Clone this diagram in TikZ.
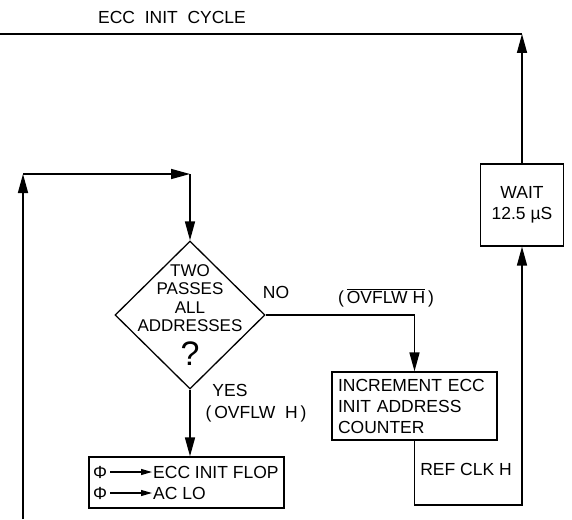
\documentclass[tikz,border=0pt]{standalone}
\usepackage{fontspec}
\setmainfont{Liberation Sans}
\usepackage{tikz}
\usetikzlibrary{arrows.meta,shapes.geometric,positioning}
\newcommand\lett{\fontsize{17.5}{21}\selectfont}

\begin{document}
\begin{tikzpicture}[
  x=1pt, y=-1pt,
  every node/.style={font=\lett, inner sep=0pt},
  box/.style={draw, line width=1.3pt, rectangle},
  wire/.style={draw, line width=1.6pt},
  flow/.style={wire, -{Triangle[length=19pt,width=10pt]}},
  small flow/.style={draw, line width=1.1pt, shorten <=3pt, shorten >=1pt, -{Triangle[length=11pt,width=6pt]}}
]
\useasboundingbox (0,0) rectangle (572,519);
\node[box, minimum width=83, minimum height=82, align=center] (wait) at (522,205) {WAIT\\12.5 µS};
\node[diamond, draw, line width=1.3pt, minimum width=150, minimum height=148] (test) at (190,315) {};
\node[align=center, font=\fontsize{17}{18.3}\selectfont] (testtxt) at (190,298) {TWO\\PASSES\\ALL\\ADDRESSES};
\node[font=\fontsize{34}{34}\selectfont] (qmark) at (190,354) {?};
\node[box, minimum height=68, text width=153, inner xsep=6pt, align=left] (inc) at (414.5,406)
  {INCREMENT ECC\\INIT ADDRESS\\COUNTER};
\node[box, minimum width=195, minimum height=51] (init) at (186.5,482.5) {};
\node (phia) at (100,472) {Φ};
\node (phib) at (100,493) {Φ};
\node[anchor=west] (flop) at (153,472) {ECC INIT FLOP};
\node[anchor=west] (aclo) at (153,493) {AC LO};

\node (cyc) at (172,17) {ECC \ INIT \ CYCLE};
\node (no) at (276,292) {NO};
\node (nflag) at (386,298) {(\,$\overline{\mbox{OVFLW H}}$\,)};
\node (yes) at (230,390) {YES};
\node (yflag) at (256,414) {(\,OVFLW \ H\,)};
\node (refclk) at (466,469) {REF CLK H};

\coordinate (offl) at (0,34);
\coordinate (offb) at (23,519);
\coordinate (lcorner) at (23,174);
\coordinate (rc) at (522,505);

\draw[flow] (wait.north) -- (wait.north |- offl);
\draw[wire] (wait.north |- offl) -- (offl);
\draw[flow] (offb) -- (lcorner);
\draw[flow] (lcorner) -- (test.north |- lcorner);
\draw[flow] (test.north |- lcorner) -- (test.north);
\draw[flow] (test.east) -| (inc.north);
\draw[flow] (test.south) -- (test.south |- init.north);
\draw[flow] (inc.south) |- (rc) -- (rc |- wait.south);
\draw[small flow] (phia) -- (flop);
\draw[small flow] (phib) -- (aclo);
\end{tikzpicture}
\end{document}
